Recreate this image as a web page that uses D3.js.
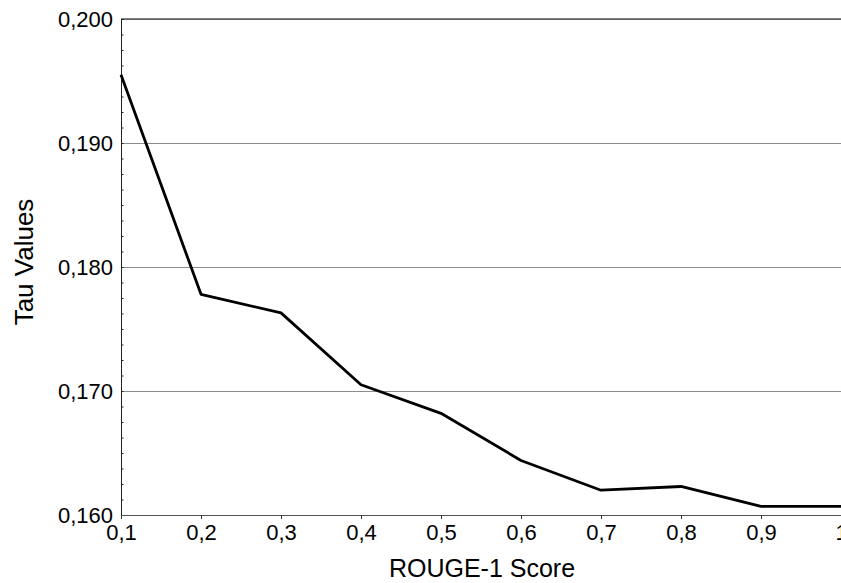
<!DOCTYPE html>
<html>
<head>
<meta charset="utf-8">
<style>
body { margin: 0; background: #fff; }
svg { font-family: "Liberation Sans", Arial, sans-serif; }
.grid line { stroke: #8c8c8c; }
.grid path { display: none; }
.minor path { stroke: #222; }
.minor line { stroke: #222; }
.labels path, .labels line { display: none; }
.labels text { font-size: 22px; fill: #000; }
</style>
</head>
<body>
<svg width="841" height="583"></svg>
<script src="https://d3js.org/d3.v7.min.js"></script>
<script>

// values
var rougeScores = [0.1, 0.2, 0.3, 0.4, 0.5, 0.6, 0.7, 0.8, 0.9, 1.0];
var tauValues = [0.1955, 0.1778, 0.1763, 0.1705, 0.1682, 0.1644, 0.1620, 0.1623, 0.1607, 0.1607];
var yMajorTicks = [0.160, 0.170, 0.180, 0.190, 0.200];

var svg = d3.select("svg"),
    margin = {top: 19, right: 0, bottom: 68, left: 121},
    width = +svg.attr("width") - margin.left - margin.right,
    height = +svg.attr("height") - margin.top - margin.bottom;

var locale = d3.formatLocale({decimal: ",", thousands: ".", grouping: [3], currency: ["", ""]});
var fmtY = locale.format(".3f"),
    fmtX = locale.format(".1f");

var x = d3.scaleLinear().domain([0.1, 1.0]).range([0, width]);
var y = d3.scaleLinear().domain([0.160, 0.200]).range([height, 0]);

var g = svg.append("g").attr("transform", "translate(" + margin.left + "," + margin.top + ")");

// minor ticks every 0.00125
var yMinorTicks = d3.range(0, 33).map(function(i) { return 0.160 + i * 0.00125; });

// horizontal grid lines
g.append("g")
    .attr("class", "grid")
    .call(d3.axisRight(y).tickValues(yMajorTicks).tickSize(width).tickFormat(""));

// the top line is a bit darker
g.append("line")
    .attr("x1", 0).attr("x2", width)
    .attr("y1", y(0.200)).attr("y2", y(0.200))
    .attr("stroke", "#555").attr("stroke-width", 1.5);

// left axis with small inward ticks
g.append("g")
    .attr("class", "minor")
    .call(d3.axisRight(y).tickValues(yMinorTicks).tickSize(2.5).tickSizeOuter(0).tickFormat(""));

g.append("g")
    .attr("class", "labels")
    .call(d3.axisLeft(y).tickValues(yMajorTicks).tickSize(0).tickPadding(8).tickFormat(fmtY));

// bottom axis
var xAxis = g.append("g")
    .attr("transform", "translate(0," + height + ")")
    .call(d3.axisBottom(x).tickValues(rougeScores).tickSize(4).tickSizeOuter(0)
      .tickFormat(function(d) { return d === 1 ? "1" : fmtX(d); }));
xAxis.select(".domain").attr("stroke", "#555");
xAxis.selectAll("line").attr("stroke", "#333");
xAxis.selectAll("text").attr("font-size", "22px").attr("fill", "#000").attr("dy", "0.82em");
xAxis.attr("font-family", null);
g.selectAll(".labels").attr("font-family", null);

// the line
var line = d3.line()
    .x(function(d, i) { return x(rougeScores[i]); })
    .y(function(d) { return y(d); });

g.append("path")
    .datum(tauValues)
    .attr("fill", "none")
    .attr("stroke", "#000")
    .attr("stroke-width", 2.8)
    .attr("stroke-linejoin", "round")
    .attr("d", line);

// axis titles
svg.append("text")
    .attr("x", 482)
    .attr("y", 577)
    .attr("text-anchor", "middle")
    .attr("font-size", "25px")
    .text("ROUGE-1 Score");

svg.append("text")
    .attr("transform", "translate(33,262) rotate(-90)")
    .attr("text-anchor", "middle")
    .attr("font-size", "26px")
    .text("Tau Values");

</script>
</body>
</html>
